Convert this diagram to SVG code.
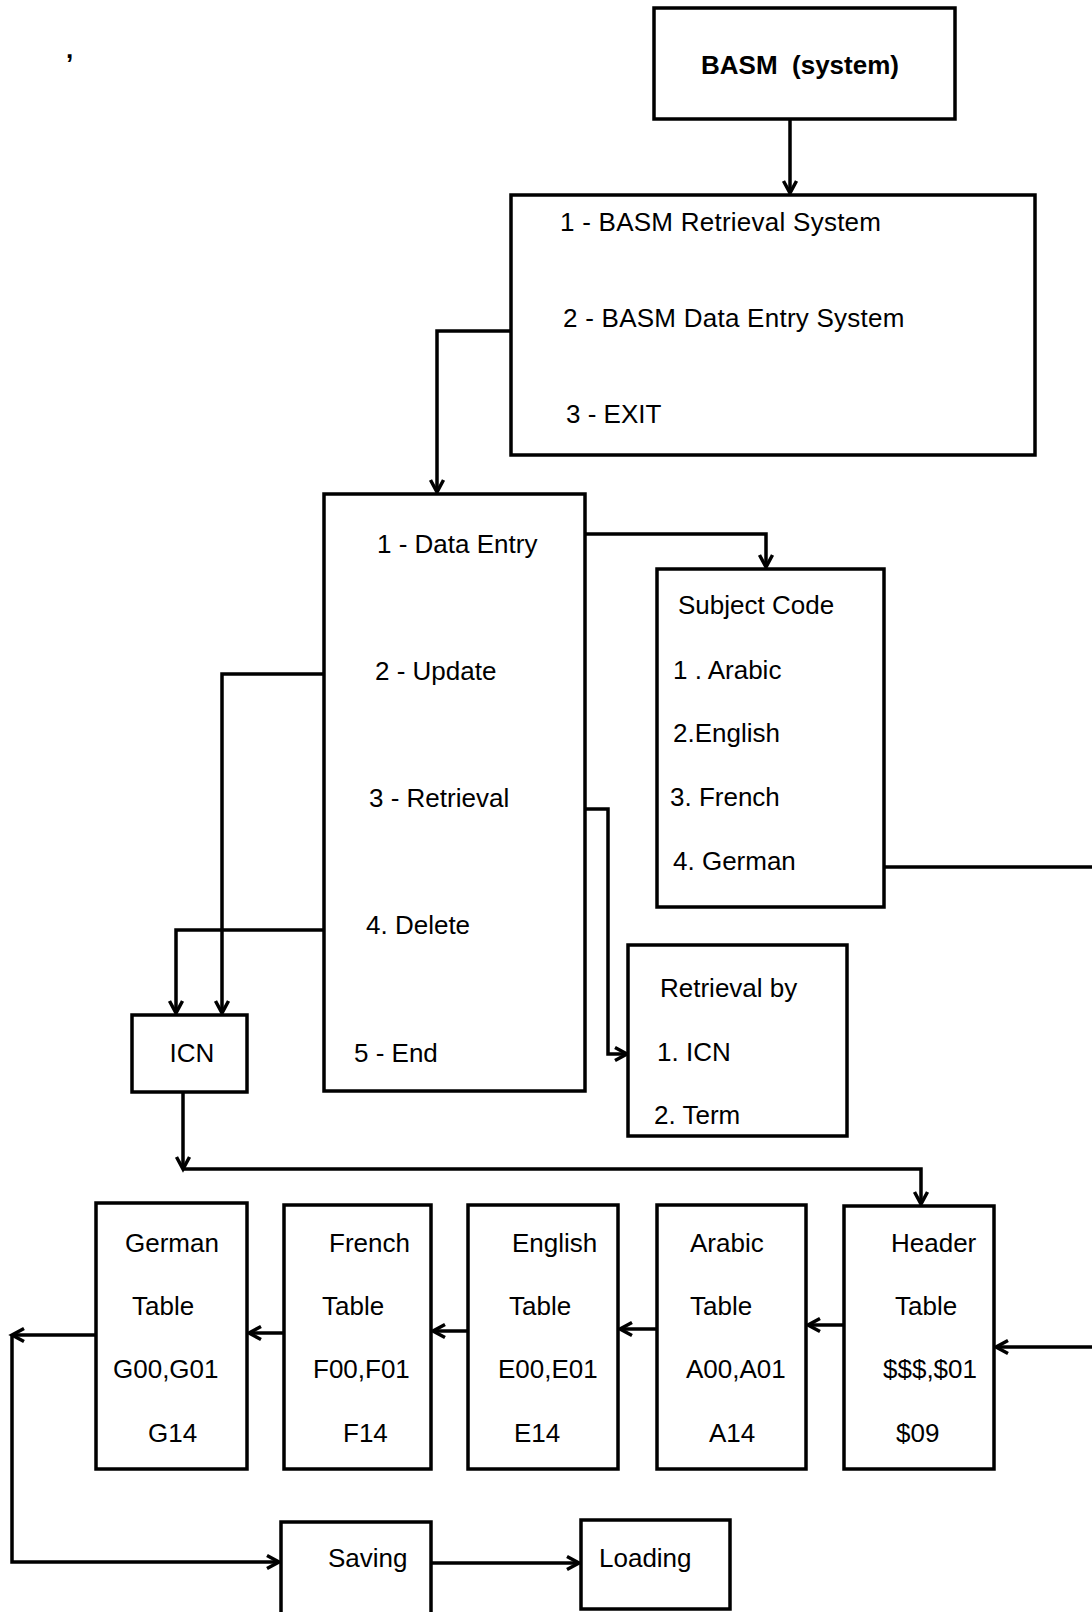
<svg xmlns="http://www.w3.org/2000/svg" width="1092" height="1612" viewBox="0 0 1092 1612">
<style>
.box{fill:#fff;stroke:#000;stroke-width:3.5}
.t{font-family:"Liberation Sans",Arial,sans-serif;font-size:26px;fill:#000;white-space:pre}
.b{font-weight:bold}
.c{fill:none;stroke:#000;stroke-width:3.5}
</style>
<defs>
<marker id="arr" markerWidth="16" markerHeight="16" refX="13" refY="8" orient="auto" markerUnits="userSpaceOnUse" overflow="visible">
<path d="M1,1.5 L13,8 L1,14.5" fill="none" stroke="#000" stroke-width="3.5"/>
</marker>
</defs>
<rect width="1092" height="1612" fill="#fff"/>
<text class="t b" x="66" y="58">,</text>

<g id="connectors">
<path class="c" d="M790,119 V193" marker-end="url(#arr)"/>
<path class="c" d="M511,331 H437 V492" marker-end="url(#arr)"/>
<path class="c" d="M585,534 H766 V567" marker-end="url(#arr)"/>
<path class="c" d="M585,809 H608 V1054 H627" marker-end="url(#arr)"/>
<path class="c" d="M324,674 H222 V1013" marker-end="url(#arr)"/>
<path class="c" d="M324,930 H176 V1013" marker-end="url(#arr)"/>
<path class="c" d="M183,1092 V1169" marker-end="url(#arr)"/>
<path class="c" d="M183,1169 H921 V1204" marker-end="url(#arr)"/>
<path class="c" d="M884,867 H1100 V1347 H996" marker-end="url(#arr)"/>
<path class="c" d="M844,1325 H808" marker-end="url(#arr)"/>
<path class="c" d="M657,1329 H620" marker-end="url(#arr)"/>
<path class="c" d="M468,1331 H433" marker-end="url(#arr)"/>
<path class="c" d="M284,1333 H249" marker-end="url(#arr)"/>
<path class="c" d="M96,1335 H12" marker-end="url(#arr)"/>
<path class="c" d="M12,1335 V1562 H279" marker-end="url(#arr)"/>
<path class="c" d="M431,1563 H579" marker-end="url(#arr)"/>
</g>

<g id="basm">
<rect class="box" x="654" y="8" width="301" height="111"/>
<text class="t b" x="800" y="74" text-anchor="middle">BASM  (system)</text>
</g>

<g id="main-menu">
<rect class="box" x="511" y="195" width="524" height="260"/>
<text class="t" x="560" y="231" letter-spacing="0.25">1 - BASM Retrieval System</text>
<text class="t" x="563" y="327" letter-spacing="0.25">2 - BASM Data Entry System</text>
<text class="t" x="566" y="423">3 - EXIT</text>
</g>

<g id="data-entry-menu">
<rect class="box" x="324" y="494" width="261" height="597"/>
<text class="t" x="377" y="553">1 - Data Entry</text>
<text class="t" x="375" y="680">2 - Update</text>
<text class="t" x="369" y="807">3 - Retrieval</text>
<text class="t" x="366" y="934">4. Delete</text>
<text class="t" x="354" y="1062">5 - End</text>
</g>

<g id="subject-code">
<rect class="box" x="657" y="569" width="227" height="338"/>
<text class="t" x="678" y="614">Subject Code</text>
<text class="t" x="673" y="679">1 . Arabic</text>
<text class="t" x="673" y="742">2.English</text>
<text class="t" x="670" y="806">3. French</text>
<text class="t" x="673" y="870">4. German</text>
</g>

<g id="retrieval-by">
<rect class="box" x="628" y="945" width="219" height="191"/>
<text class="t" x="660" y="997">Retrieval by</text>
<text class="t" x="657" y="1061">1. ICN</text>
<text class="t" x="654" y="1124">2. Term</text>
</g>

<g id="icn">
<rect class="box" x="132" y="1015" width="115" height="77"/>
<text class="t" x="192" y="1062" text-anchor="middle">ICN</text>
</g>

<g id="german-table">
<rect class="box" x="96" y="1203" width="151" height="266"/>
<text class="t" x="125" y="1252">German</text>
<text class="t" x="132" y="1315">Table</text>
<text class="t" x="113" y="1378">G00,G01</text>
<text class="t" x="148" y="1442">G14</text>
</g>

<g id="french-table">
<rect class="box" x="284" y="1205" width="147" height="264"/>
<text class="t" x="329" y="1252">French</text>
<text class="t" x="322" y="1315">Table</text>
<text class="t" x="313" y="1378">F00,F01</text>
<text class="t" x="343" y="1442">F14</text>
</g>

<g id="english-table">
<rect class="box" x="468" y="1205" width="150" height="264"/>
<text class="t" x="512" y="1252">English</text>
<text class="t" x="509" y="1315">Table</text>
<text class="t" x="498" y="1378">E00,E01</text>
<text class="t" x="514" y="1442">E14</text>
</g>

<g id="arabic-table">
<rect class="box" x="657" y="1205" width="149" height="264"/>
<text class="t" x="690" y="1252">Arabic</text>
<text class="t" x="690" y="1315">Table</text>
<text class="t" x="686" y="1378">A00,A01</text>
<text class="t" x="709" y="1442">A14</text>
</g>

<g id="header-table">
<rect class="box" x="844" y="1206" width="150" height="263"/>
<text class="t" x="891" y="1252">Header</text>
<text class="t" x="895" y="1315">Table</text>
<text class="t" x="883" y="1378">$$$,$01</text>
<text class="t" x="896" y="1442">$09</text>
</g>

<g id="saving">
<rect class="box" x="281" y="1522" width="150" height="100"/>
<text class="t" x="328" y="1567">Saving</text>
</g>

<g id="loading">
<rect class="box" x="581" y="1520" width="149" height="89"/>
<text class="t" x="599" y="1567">Loading</text>
</g>
</svg>
